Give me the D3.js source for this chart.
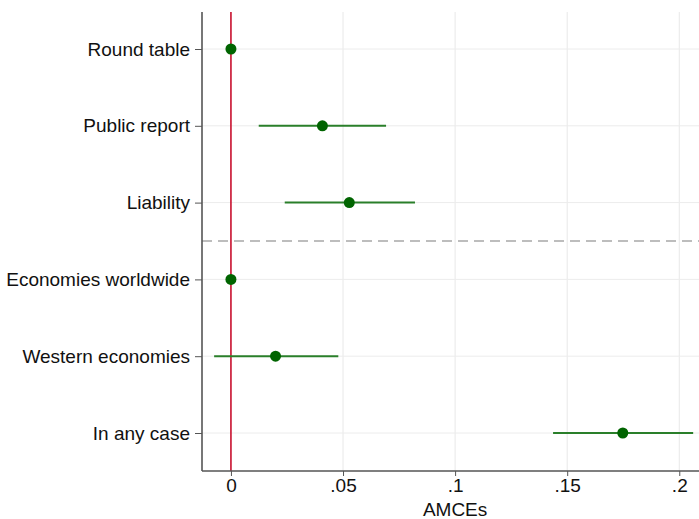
<!DOCTYPE html>
<html>
<head>
<meta charset="utf-8">
<script src="https://cdn.jsdelivr.net/npm/d3@7"></script>
<style>
  body { margin: 0; background: #fff; }
  text { font-family: "Liberation Sans", Arial, sans-serif; fill: #111; }
</style>
</head>
<body>
<svg id="chart"></svg>
<script>
// Data
const categories = ['Round table', 'Public report', 'Liability', 'Economies worldwide', 'Western economies', 'In any case'];
const estimates = [0, 0.0408, 0.0528, 0, 0.0199, 0.1748];
const ciLow = [null, 0.0124, 0.0240, null, -0.0075, 0.1437];
const ciHigh = [null, 0.0692, 0.0821, null, 0.0479, 0.2062];
const xTicks = [0, 0.05, 0.1, 0.15, 0.2];
const xTickLabels = ['0', '.05', '.1', '.15', '.2'];

const width = 699, height = 519;
const margin = {top: 12, right: 0, bottom: 48, left: 202};
const innerW = width - margin.left - margin.right;
const innerH = height - margin.top - margin.bottom;
const fontSize = 19;

const svg = d3.select('#chart').attr('width', width).attr('height', height);
const chart = svg.append('g').attr('transform', `translate(${margin.left},${margin.top})`);

const xScale = d3.scaleLinear()
  .domain([-0.01291, 0.2088])
  .range([0, innerW]);

const yScale = d3.scalePoint()
  .domain(categories)
  .range([37, 421]);

// gridlines
chart.append('g').selectAll('line.vgrid')
  .data(xTicks.slice(1))
  .join('line')
  .attr('x1', d => xScale(d)).attr('x2', d => xScale(d))
  .attr('y1', 0).attr('y2', innerH)
  .attr('stroke', '#e8e8e8').attr('stroke-width', 1);

chart.append('g').selectAll('line.hgrid')
  .data(categories)
  .join('line')
  .attr('x1', 0).attr('x2', innerW)
  .attr('y1', d => yScale(d)).attr('y2', d => yScale(d))
  .attr('stroke', '#ececec').attr('stroke-width', 1);

// dashed separator between groups
const sepY = (yScale(categories[2]) + yScale(categories[3])) / 2;
chart.append('line')
  .attr('x1', 0).attr('x2', innerW)
  .attr('y1', sepY).attr('y2', sepY)
  .attr('stroke', '#a8a8a8').attr('stroke-width', 1.6)
  .attr('stroke-dasharray', '10,6');

// reference line at zero
chart.append('line')
  .attr('x1', xScale(0)).attr('x2', xScale(0))
  .attr('y1', 0).attr('y2', innerH)
  .attr('stroke', '#c8102e').attr('stroke-width', 1.6);

const rows = categories.map((c, i) => ({cat: c, est: estimates[i], lo: ciLow[i], hi: ciHigh[i]}));

// confidence intervals
chart.selectAll('.ci')
  .data(rows.filter(d => d.lo !== null))
  .join('line')
  .attr('class', 'ci')
  .attr('x1', d => xScale(d.lo)).attr('x2', d => xScale(d.hi))
  .attr('y1', d => yScale(d.cat)).attr('y2', d => yScale(d.cat))
  .attr('stroke', '#2a7f2a').attr('stroke-width', 2);

// point estimates
chart.selectAll('.pt')
  .data(rows)
  .join('circle')
  .attr('class', 'pt')
  .attr('cx', d => xScale(d.est))
  .attr('cy', d => yScale(d.cat))
  .attr('r', 5.5)
  .attr('fill', '#006400');

// axes
const xAxis = d3.axisBottom(xScale)
  .tickValues(xTicks)
  .tickFormat((d, i) => xTickLabels[i])
  .tickSize(5).tickPadding(3);

const yAxis = d3.axisLeft(yScale).tickSize(7).tickPadding(5);

const xAxisG = chart.append('g')
  .attr('transform', `translate(0,${innerH})`)
  .call(xAxis);
xAxisG.select('.domain').attr('d', `M0,0H${innerW}`).attr('stroke', '#555').attr('stroke-width', 1.6);
xAxisG.selectAll('.tick line').attr('stroke', '#555');
xAxisG.selectAll('text').attr('font-size', fontSize).style('font-family', '"Liberation Sans", Arial, sans-serif').attr('fill', '#111');

const yAxisG = chart.append('g').call(yAxis);
yAxisG.select('.domain').attr('d', `M0,0V${innerH}`).attr('stroke', '#555').attr('stroke-width', 1.6);
yAxisG.selectAll('.tick line').attr('stroke', '#555');
yAxisG.selectAll('text').attr('font-size', fontSize).style('font-family', '"Liberation Sans", Arial, sans-serif').attr('fill', '#111');

// axis title
svg.append('text')
  .attr('x', margin.left + xScale(0.1))
  .attr('y', 516)
  .attr('text-anchor', 'middle')
  .attr('font-size', fontSize)
  .text('AMCEs');
</script>
</body>
</html>
